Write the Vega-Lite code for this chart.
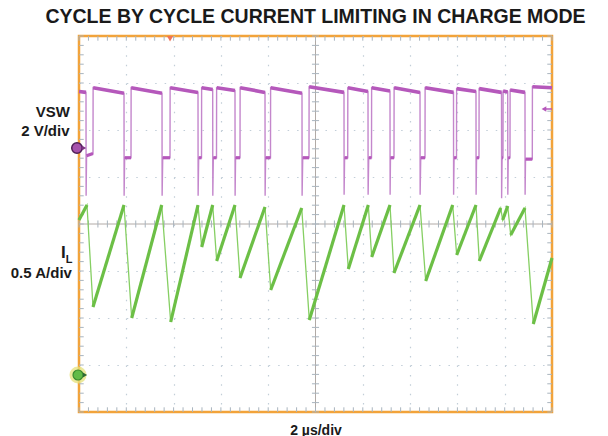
{
  "$schema": "https://vega.github.io/schema/vega-lite/v6.json",
  "width": 473,
  "height": 376,
  "autosize": "none",
  "padding": {"left": 79, "top": 36, "right": 56, "bottom": 24},
  "background": "white",
  "title": {"text": "CYCLE BY CYCLE CURRENT LIMITING IN CHARGE MODE", "font": "Liberation Sans", "fontSize": 19.5, "fontWeight": "bold", "color": "#1a1a1a", "anchor": "middle", "frame": "group", "offset": 8},
  "config": {"view": {"stroke": "#f2a33a", "strokeWidth": 2.5}, "font": "Liberation Sans"},
  "datasets": {
    "crosshair": [{"t": 10, "v": 4}],
    "xticks": [{"t":0},{"t":0.4},{"t":0.8},{"t":1.2},{"t":1.6},{"t":2},{"t":2.4},{"t":2.8},{"t":3.2},{"t":3.6},{"t":4},{"t":4.4},{"t":4.8},{"t":5.2},{"t":5.6},{"t":6},{"t":6.4},{"t":6.8},{"t":7.2},{"t":7.6},{"t":8},{"t":8.4},{"t":8.8},{"t":9.2},{"t":9.6},{"t":10},{"t":10.4},{"t":10.8},{"t":11.2},{"t":11.6},{"t":12},{"t":12.4},{"t":12.8},{"t":13.2},{"t":13.6},{"t":14},{"t":14.4},{"t":14.8},{"t":15.2},{"t":15.6},{"t":16},{"t":16.4},{"t":16.8},{"t":17.2},{"t":17.6},{"t":18},{"t":18.4},{"t":18.8},{"t":19.2},{"t":19.6},{"t":20}],
    "yticks": [{"v":0},{"v":0.2},{"v":0.4},{"v":0.6},{"v":0.8},{"v":1},{"v":1.2},{"v":1.4},{"v":1.6},{"v":1.8},{"v":2},{"v":2.2},{"v":2.4},{"v":2.6},{"v":2.8},{"v":3},{"v":3.2},{"v":3.4},{"v":3.6},{"v":3.8},{"v":4},{"v":4.2},{"v":4.4},{"v":4.6},{"v":4.8},{"v":5},{"v":5.2},{"v":5.4},{"v":5.6},{"v":5.8},{"v":6},{"v":6.2},{"v":6.4},{"v":6.6},{"v":6.8},{"v":7},{"v":7.2},{"v":7.4},{"v":7.6},{"v":7.8},{"v":8}],
    "vsw": [
      {"t":0,"v":6.82,"c":0},{"t":0.296,"v":6.8,"c":0},{"t":0.301,"v":4.6,"c":0},{"t":0.32,"v":5.45,"c":0},{"t":0.592,"v":5.5,"c":0},
      {"t":0.597,"v":6.9,"c":1},{"t":1.903,"v":6.78,"c":1},{"t":1.908,"v":4.6,"c":1},{"t":1.93,"v":5.41,"c":1},{"t":2.199,"v":5.41,"c":1},
      {"t":2.204,"v":6.9,"c":2},{"t":3.51,"v":6.78,"c":2},{"t":3.515,"v":4.6,"c":2},{"t":3.54,"v":5.41,"c":2},{"t":3.848,"v":5.41,"c":2},
      {"t":3.853,"v":6.9,"c":3},{"t":5.032,"v":6.8,"c":3},{"t":5.037,"v":4.6,"c":3},{"t":5.06,"v":5.41,"c":3},{"t":5.18,"v":5.41,"c":3},
      {"t":5.185,"v":6.9,"c":4},{"t":5.653,"v":6.86,"c":4},{"t":5.658,"v":4.6,"c":4},{"t":5.68,"v":5.41,"c":4},{"t":5.814,"v":5.41,"c":4},
      {"t":5.819,"v":6.9,"c":5},{"t":6.596,"v":6.84,"c":5},{"t":6.601,"v":4.6,"c":5},{"t":6.62,"v":5.41,"c":5},{"t":6.808,"v":5.41,"c":5},
      {"t":6.813,"v":6.9,"c":6},{"t":7.865,"v":6.8,"c":6},{"t":7.87,"v":4.6,"c":6},{"t":7.89,"v":5.41,"c":6},{"t":8.097,"v":5.41,"c":6},
      {"t":8.102,"v":6.9,"c":7},{"t":9.429,"v":6.78,"c":7},{"t":9.434,"v":4.6,"c":7},{"t":9.46,"v":5.41,"c":7},{"t":9.725,"v":5.41,"c":7},
      {"t":9.73,"v":6.92,"c":8},{"t":11.205,"v":6.8,"c":8},{"t":11.21,"v":4.62,"c":8},{"t":11.23,"v":5.41,"c":8},{"t":11.362,"v":5.41,"c":8},
      {"t":11.367,"v":6.9,"c":9},{"t":12.22,"v":6.82,"c":9},{"t":12.225,"v":4.62,"c":9},{"t":12.25,"v":5.41,"c":9},{"t":12.368,"v":5.41,"c":9},
      {"t":12.373,"v":6.9,"c":10},{"t":13.15,"v":6.83,"c":10},{"t":13.155,"v":4.62,"c":10},{"t":13.17,"v":5.41,"c":10},{"t":13.319,"v":5.41,"c":10},
      {"t":13.324,"v":6.9,"c":11},{"t":14.419,"v":6.8,"c":11},{"t":14.424,"v":4.62,"c":11},{"t":14.45,"v":5.41,"c":11},{"t":14.63,"v":5.41,"c":11},
      {"t":14.635,"v":6.9,"c":12},{"t":15.835,"v":6.8,"c":12},{"t":15.84,"v":4.62,"c":12},{"t":15.86,"v":5.41,"c":12},{"t":15.962,"v":5.41,"c":12},
      {"t":15.967,"v":6.88,"c":13},{"t":16.786,"v":6.82,"c":13},{"t":16.791,"v":4.62,"c":13},{"t":16.81,"v":5.41,"c":13},{"t":16.913,"v":5.41,"c":13},
      {"t":16.918,"v":6.88,"c":14},{"t":17.865,"v":6.8,"c":14},{"t":17.87,"v":4.55,"c":14},{"t":17.89,"v":5.41,"c":14},{"t":17.928,"v":5.41,"c":14},
      {"t":17.933,"v":6.83,"c":15},{"t":18.127,"v":6.81,"c":15},{"t":18.132,"v":4.62,"c":15},{"t":18.15,"v":5.41,"c":15},{"t":18.224,"v":5.41,"c":15},
      {"t":18.229,"v":6.85,"c":16},{"t":18.858,"v":6.8,"c":16},{"t":18.863,"v":4.62,"c":16},{"t":18.88,"v":5.38,"c":16},{"t":19.167,"v":5.38,"c":16},
      {"t":19.172,"v":6.92,"c":17},{"t":20,"v":6.9,"c":17}
    ],
    "il": [
      {"t":0,"v":4.085,"c":0},{"t":0.338,"v":4.404,"c":0},
      {"t":0.592,"v":2.234,"c":1},{"t":1.903,"v":4.404,"c":1},
      {"t":2.228,"v":2.0,"c":2},{"t":3.497,"v":4.404,"c":2},
      {"t":3.877,"v":1.915,"c":3},{"t":5.032,"v":4.404,"c":3},
      {"t":5.188,"v":3.511,"c":4},{"t":5.653,"v":4.404,"c":4},
      {"t":5.822,"v":3.213,"c":5},{"t":6.596,"v":4.404,"c":5},
      {"t":6.808,"v":2.851,"c":6},{"t":7.865,"v":4.362,"c":6},
      {"t":8.106,"v":2.596,"c":7},{"t":9.417,"v":4.34,"c":7},
      {"t":9.738,"v":1.957,"c":8},{"t":11.205,"v":4.404,"c":8},
      {"t":11.387,"v":3.043,"c":9},{"t":12.233,"v":4.404,"c":9},
      {"t":12.376,"v":3.298,"c":10},{"t":13.15,"v":4.404,"c":10},
      {"t":13.319,"v":2.957,"c":11},{"t":14.419,"v":4.404,"c":11},
      {"t":14.66,"v":2.787,"c":12},{"t":15.801,"v":4.404,"c":12},
      {"t":15.97,"v":3.34,"c":13},{"t":16.786,"v":4.404,"c":13},
      {"t":16.926,"v":3.213,"c":14},{"t":17.831,"v":4.34,"c":14},
      {"t":17.915,"v":4.085,"c":15},{"t":18.127,"v":4.383,"c":15},
      {"t":18.254,"v":3.766,"c":16},{"t":18.858,"v":4.34,"c":16},
      {"t":19.209,"v":1.872,"c":17},{"t":20,"v":3.277,"c":17}
    ],
    "labels": [
      {"text":"VSW","t":-0.38,"v":6.266},
      {"text":"2 V/div","t":-0.40,"v":5.872},
      {"text":"0.5 A/div","t":-0.30,"v":2.851},
      {"text":"I","t":-0.562,"v":3.266},
      {"text":"L","t":-0.562,"v":3.16}
    ],
    "markers": [
      {"name":"ch2","t":-0.085,"v":5.617},
      {"name":"ch1","t":-0.042,"v":0.787},
      {"name":"trig_level","t":19.66,"v":6.447},
      {"name":"trig_pos","t":3.85,"v":7.94}
    ]
  },
  "layer": [
    {
      "data": {"name": "crosshair"},
      "mark": {"type": "rule", "color": "#b1aaa6", "strokeWidth": 1},
      "encoding": {
        "x": {"field": "t", "type": "quantitative", "scale": {"domain": [0, 20], "nice": false, "zero": false},
              "title": "2 µs/div",
              "axis": {"values": [2,4,6,8,12,14,16,18], "grid": true, "gridColor": "#c2ced8", "gridDash": [1.5, 7.9], "gridWidth": 1.2, "labels": false, "ticks": false, "domain": false, "titleFontSize": 14, "titleFont": "Liberation Sans", "titleFontWeight": "bold", "titleColor": "#1a1a1a", "titlePadding": 11}}
      }
    },
    {
      "data": {"name": "crosshair"},
      "mark": {"type": "rule", "color": "#b1aaa6", "strokeWidth": 1},
      "encoding": {
        "y": {"field": "v", "type": "quantitative", "scale": {"domain": [0, 8], "nice": false, "zero": false},
              "title": null,
              "axis": {"values": [1,2,3,5,6,7], "grid": true, "gridColor": "#c2ced8", "gridDash": [1.5, 7.96], "gridWidth": 1.2, "labels": false, "ticks": false, "domain": false, "title": null}}
      }
    },
    {
      "data": {"name": "xticks"},
      "mark": {"type": "rule", "color": "#a9b4be", "strokeWidth": 1},
      "encoding": {
        "x": {"field": "t", "type": "quantitative", "title": "2 µs/div"},
        "y": {"datum": 3.925, "type": "quantitative"},
        "y2": {"datum": 4.075}
      }
    },
    {
      "data": {"name": "yticks"},
      "mark": {"type": "rule", "color": "#a9b4be", "strokeWidth": 1},
      "encoding": {
        "y": {"field": "v", "type": "quantitative", "title": null},
        "x": {"datum": 9.85, "type": "quantitative"},
        "x2": {"datum": 10.15}
      }
    },
    {
      "data": {"name": "xticks"},
      "mark": {"type": "rule", "color": "#a9b4be", "strokeWidth": 1},
      "encoding": {
        "x": {"field": "t", "type": "quantitative", "title": "2 µs/div"},
        "y": {"datum": 8, "type": "quantitative"},
        "y2": {"datum": 7.9}
      }
    },
    {
      "data": {"name": "xticks"},
      "mark": {"type": "rule", "color": "#a9b4be", "strokeWidth": 1},
      "encoding": {
        "x": {"field": "t", "type": "quantitative", "title": "2 µs/div"},
        "y": {"datum": 0, "type": "quantitative"},
        "y2": {"datum": 0.1}
      }
    },
    {
      "data": {"name": "yticks"},
      "mark": {"type": "rule", "color": "#a9b4be", "strokeWidth": 1},
      "encoding": {
        "y": {"field": "v", "type": "quantitative", "title": null},
        "x": {"datum": 0, "type": "quantitative"},
        "x2": {"datum": 0.2}
      }
    },
    {
      "data": {"name": "yticks"},
      "mark": {"type": "rule", "color": "#a9b4be", "strokeWidth": 1},
      "encoding": {
        "y": {"field": "v", "type": "quantitative", "title": null},
        "x": {"datum": 20, "type": "quantitative"},
        "x2": {"datum": 19.8}
      }
    },
    {
      "data": {"name": "il"},
      "mark": {"type": "line", "color": "#86cf63", "strokeWidth": 1.3},
      "encoding": {
        "x": {"field": "t", "type": "quantitative", "title": "2 µs/div"},
        "y": {"field": "v", "type": "quantitative", "title": null}
      }
    },
    {
      "data": {"name": "il"},
      "mark": {"type": "line", "color": "#6cbf46", "strokeWidth": 3.2},
      "encoding": {
        "x": {"field": "t", "type": "quantitative", "title": "2 µs/div"},
        "y": {"field": "v", "type": "quantitative", "title": null},
        "detail": {"field": "c", "type": "nominal"}
      }
    },
    {
      "data": {"name": "vsw"},
      "mark": {"type": "line", "color": "#c487cc", "strokeWidth": 1.4},
      "encoding": {
        "x": {"field": "t", "type": "quantitative", "title": "2 µs/div"},
        "y": {"field": "v", "type": "quantitative", "title": null}
      }
    },
    {
      "data": {"name": "vsw"},
      "transform": [{"filter": "datum.v > 6"}],
      "mark": {"type": "line", "color": "#b558bb", "strokeWidth": 3.6},
      "encoding": {
        "x": {"field": "t", "type": "quantitative", "title": "2 µs/div"},
        "y": {"field": "v", "type": "quantitative", "title": null},
        "detail": {"field": "c", "type": "nominal"}
      }
    },
    {
      "data": {"name": "vsw"},
      "transform": [{"filter": "datum.v > 5 && datum.v < 6"}],
      "mark": {"type": "line", "color": "#b558bb", "strokeWidth": 3.2},
      "encoding": {
        "x": {"field": "t", "type": "quantitative", "title": "2 µs/div"},
        "y": {"field": "v", "type": "quantitative", "title": null},
        "detail": {"field": "c", "type": "nominal"}
      }
    },
    {
      "data": {"name": "labels"},
      "transform": [{"filter": "datum.text != 'I' && datum.text != 'L'"}],
      "mark": {"type": "text", "align": "right", "baseline": "alphabetic", "fontSize": 15, "fontWeight": "bold", "font": "Liberation Sans", "color": "#1a1a1a"},
      "encoding": {
        "x": {"field": "t", "type": "quantitative", "title": "2 µs/div"},
        "y": {"field": "v", "type": "quantitative", "title": null},
        "text": {"field": "text"}
      }
    },
    {
      "data": {"name": "labels"},
      "transform": [{"filter": "datum.text == 'I'"}],
      "mark": {"type": "text", "align": "right", "baseline": "alphabetic", "fontSize": 17, "fontWeight": "bold", "font": "Liberation Sans", "color": "#1a1a1a"},
      "encoding": {
        "x": {"field": "t", "type": "quantitative", "title": "2 µs/div"},
        "y": {"field": "v", "type": "quantitative", "title": null},
        "text": {"field": "text"}
      }
    },
    {
      "data": {"name": "labels"},
      "transform": [{"filter": "datum.text == 'L'"}],
      "mark": {"type": "text", "align": "left", "baseline": "alphabetic", "fontSize": 11, "fontWeight": "bold", "font": "Liberation Sans", "color": "#1a1a1a"},
      "encoding": {
        "x": {"field": "t", "type": "quantitative", "title": "2 µs/div"},
        "y": {"field": "v", "type": "quantitative", "title": null},
        "text": {"field": "text"}
      }
    },
    {
      "data": {"name": "markers"},
      "transform": [{"filter": "datum.name == 'trig_level'"}],
      "mark": {"type": "rule", "color": "#b558bb", "strokeWidth": 1.5},
      "encoding": {
        "x": {"field": "t", "type": "quantitative", "title": "2 µs/div"},
        "x2": {"datum": 20},
        "y": {"field": "v", "type": "quantitative", "title": null}
      }
    },
    {
      "data": {"name": "markers"},
      "transform": [{"filter": "datum.name == 'trig_level'"}],
      "mark": {"type": "point", "shape": "triangle-left", "filled": true, "size": 30, "color": "#b558bb", "opacity": 1},
      "encoding": {
        "x": {"field": "t", "type": "quantitative", "title": "2 µs/div"},
        "y": {"field": "v", "type": "quantitative", "title": null}
      }
    },
    {
      "data": {"name": "markers"},
      "transform": [{"filter": "datum.name == 'trig_pos'"}],
      "mark": {"type": "point", "shape": "triangle-down", "filled": true, "size": 40, "color": "#f17556", "opacity": 1},
      "encoding": {
        "x": {"field": "t", "type": "quantitative", "title": "2 µs/div"},
        "y": {"field": "v", "type": "quantitative", "title": null}
      }
    },
    {
      "data": {"name": "markers"},
      "transform": [{"filter": "datum.name == 'ch1'"}],
      "mark": {"type": "point", "shape": "circle", "filled": true, "size": 290, "color": "#e6e27a", "opacity": 0.75},
      "encoding": {
        "x": {"field": "t", "type": "quantitative", "title": "2 µs/div"},
        "y": {"field": "v", "type": "quantitative", "title": null}
      }
    },
    {
      "data": {"name": "markers"},
      "transform": [{"filter": "datum.name == 'ch1'"}],
      "mark": {"type": "point", "shape": "circle", "filled": true, "size": 100, "fill": "#62bb47", "stroke": "#3a8a2f", "strokeWidth": 1.2, "opacity": 1},
      "encoding": {
        "x": {"field": "t", "type": "quantitative", "title": "2 µs/div"},
        "y": {"field": "v", "type": "quantitative", "title": null}
      }
    },
    {
      "data": {"name": "markers"},
      "transform": [{"filter": "datum.name == 'ch1'"}],
      "mark": {"type": "point", "shape": "triangle-right", "filled": true, "size": 24, "color": "#2f6a35", "opacity": 1, "xOffset": 7},
      "encoding": {
        "x": {"field": "t", "type": "quantitative", "title": "2 µs/div"},
        "y": {"field": "v", "type": "quantitative", "title": null}
      }
    },
    {
      "data": {"name": "markers"},
      "transform": [{"filter": "datum.name == 'ch2'"}],
      "mark": {"type": "point", "shape": "circle", "filled": true, "size": 110, "fill": "#a652ac", "stroke": "#4e1e55", "strokeWidth": 1.5, "opacity": 1},
      "encoding": {
        "x": {"field": "t", "type": "quantitative", "title": "2 µs/div"},
        "y": {"field": "v", "type": "quantitative", "title": null}
      }
    },
    {
      "data": {"name": "markers"},
      "transform": [{"filter": "datum.name == 'ch2'"}],
      "mark": {"type": "point", "shape": "triangle-right", "filled": true, "size": 24, "color": "#7c3283", "opacity": 1, "xOffset": 7},
      "encoding": {
        "x": {"field": "t", "type": "quantitative", "title": "2 µs/div"},
        "y": {"field": "v", "type": "quantitative", "title": null}
      }
    }
  ]
}
